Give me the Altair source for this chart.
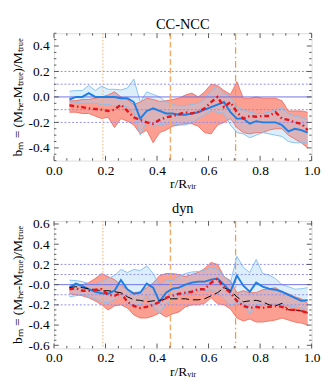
import altair as alt
import pandas as pd
import numpy as np

# ---------------- data ----------------
r = [0.060, 0.085, 0.110, 0.135, 0.160, 0.185, 0.210, 0.235, 0.260, 0.285,
     0.310, 0.335, 0.360, 0.385, 0.410, 0.435, 0.460, 0.485, 0.510, 0.535,
     0.560, 0.585, 0.610, 0.635, 0.660, 0.685, 0.710, 0.735, 0.760, 0.785,
     0.810, 0.835, 0.860, 0.885, 0.910, 0.935, 0.960, 0.985]

# CC-NCC panel
cc_blue = [-0.02, 0.0, 0.0, 0.03, 0.0, 0.0, 0.0, 0.0, -0.01, -0.01,
           -0.04, -0.17, -0.11, -0.09, -0.11, -0.13, -0.13, -0.14, -0.14, -0.13,
           -0.12, -0.10, -0.08, -0.06, -0.04, -0.12, -0.17, -0.17, -0.21, -0.19,
           -0.20, -0.20, -0.20, -0.22, -0.27, -0.25, -0.26, -0.28]
cc_blue_hi = [0.045, 0.05, 0.05, 0.09, 0.05, 0.085, 0.06, 0.06, 0.055, 0.07,
              0.14, -0.04, 0.04, 0.02, 0.0, -0.04, -0.06, -0.07, -0.07, -0.06,
              -0.05, -0.02, 0.05, 0.08, 0.03, 0.0, -0.08, -0.10, -0.12, -0.13,
              -0.13, -0.12, -0.10, -0.09, -0.13, -0.15, -0.16, -0.18]
cc_blue_lo = [-0.04, -0.04, -0.05, -0.05, -0.05, -0.06, -0.06, -0.07, -0.07, -0.08,
              -0.12, -0.30, -0.19, -0.23, -0.22, -0.21, -0.21, -0.22, -0.22, -0.20,
              -0.17, -0.14, -0.11, -0.12, -0.13, -0.22, -0.28, -0.29, -0.32, -0.30,
              -0.28, -0.29, -0.30, -0.31, -0.35, -0.36, -0.36, -0.36]
cc_red = [-0.065, -0.075, -0.08, -0.09, -0.095, -0.10, -0.11, -0.10, -0.06, -0.11,
          -0.16, -0.18, -0.20, -0.21, -0.18, -0.16, -0.15, -0.135, -0.12, -0.13,
          -0.115, -0.09, -0.04, 0.0, -0.08, -0.04, -0.12, -0.17, -0.15, -0.155,
          -0.15, -0.15, -0.12, -0.17, -0.18, -0.20, -0.21, -0.26]
cc_red_hi = [-0.03, -0.03, -0.02, -0.02, -0.01, 0.0, 0.015, 0.04, 0.0, -0.02,
             -0.06, -0.04, -0.01, -0.02, -0.035, -0.03, -0.02, -0.01, 0.015, 0.03,
             0.0, 0.04, 0.10, 0.09, 0.05, 0.02, 0.12, -0.01, -0.01, 0.0,
             -0.01, -0.01, -0.01, -0.03, -0.11, -0.11, -0.11, -0.12]
cc_red_lo = [-0.12, -0.12, -0.13, -0.13, -0.15, -0.17, -0.16, -0.24, -0.17, -0.19,
             -0.22, -0.29, -0.26, -0.36, -0.28, -0.26, -0.23, -0.22, -0.21, -0.21,
             -0.23, -0.28, -0.29, -0.22, -0.20, -0.17, -0.24, -0.28, -0.29, -0.28,
             -0.28, -0.26, -0.25, -0.25, -0.30, -0.33, -0.36, -0.40]

# dyn panel
dy_blue = [-0.03, 0.01, -0.015, -0.045, -0.07, -0.085, -0.09, -0.06, 0.045, -0.045,
           -0.09, -0.08, 0.01, -0.03, -0.17, -0.08, -0.04, -0.03, 0.0, 0.02,
           0.03, 0.03, 0.05, 0.06, 0.0, -0.07, 0.09, -0.01, -0.07, 0.02,
           -0.02, -0.04, -0.05, -0.07, -0.10, -0.13, -0.16, -0.155]
dy_blue_hi = [0.045, 0.04, 0.03, 0.01, 0.0, 0.03, 0.06, 0.09, 0.15, 0.12,
              0.15, 0.14, 0.185, 0.11, -0.01, 0.045, 0.04, 0.08, 0.11, 0.125,
              0.13, 0.14, 0.17, 0.15, 0.08, 0.02, 0.28, 0.17, 0.12, 0.25,
              0.11, 0.095, 0.06, 0.0, -0.02, -0.045, -0.04, -0.03]
dy_blue_lo = [-0.12, -0.11, -0.10, -0.12, -0.14, -0.17, -0.18, -0.15, -0.09, -0.18,
              -0.21, -0.20, -0.10, -0.22, -0.28, -0.19, -0.15, -0.11, -0.08, -0.06,
              -0.06, -0.06, -0.05, -0.08, -0.14, -0.21, -0.17, -0.19, -0.29, -0.20,
              -0.19, -0.19, -0.19, -0.20, -0.21, -0.22, -0.23, -0.25]
dy_red = [-0.045, -0.035, -0.06, -0.06, -0.05, -0.045, -0.10, -0.11, -0.08, -0.17,
          -0.21, -0.23, -0.22, -0.20, -0.17, -0.13, -0.11, -0.09, -0.08, -0.07,
          -0.045, -0.045, 0.02, 0.06, -0.03, -0.08, -0.16, -0.21, -0.23, -0.22,
          -0.23, -0.22, -0.21, -0.22, -0.25, -0.25, -0.26, -0.28]
dy_red_hi = [-0.015, 0.0, 0.0, 0.02, 0.06, 0.11, 0.08, 0.05, 0.0, -0.05,
             -0.08, -0.07, -0.03, 0.015, 0.09, 0.11, 0.11, 0.10, 0.08, 0.10,
             0.12, 0.16, 0.22, 0.20, 0.08, 0.04, -0.08, -0.06, -0.08, -0.08,
             -0.05, -0.04, -0.03, -0.07, -0.09, -0.12, -0.14, -0.185]
dy_red_lo = [-0.09, -0.10, -0.11, -0.13, -0.16, -0.20, -0.25, -0.21, -0.20, -0.23,
             -0.30, -0.33, -0.33, -0.31, -0.28, -0.32, -0.29, -0.27, -0.22, -0.20,
             -0.20, -0.185, -0.13, -0.19, -0.20, -0.24, -0.33, -0.36, -0.34, -0.37,
             -0.37, -0.36, -0.35, -0.33, -0.35, -0.37, -0.38, -0.40]
dy_black = [-0.03, -0.02, -0.03, -0.04, -0.05, -0.06, -0.06, -0.07, -0.08, -0.12,
            -0.15, -0.155, -0.17, -0.16, -0.155, -0.14, -0.14, -0.14, -0.14, -0.15,
            -0.15, -0.14, -0.11, -0.08, -0.03, -0.06, -0.12, -0.17, -0.16, -0.155,
            -0.17, -0.20, -0.21, -0.185, -0.25, -0.25, -0.26, -0.28]

h_dotted = [0.2, 0.1, -0.1, -0.2]
h_solid = [0.0]
v_lines = [0.19, 0.452, 0.705]
v_styles = ["dot", "dash", "dashdot"]

x_labels = [0.0, 0.2, 0.4, 0.6, 0.8, 1.0]
cc_ylabels = [-0.4, -0.2, 0.0, 0.2, 0.4]
dy_ylabels = [-0.6, -0.4, -0.2, 0.0, 0.2, 0.4, 0.6]

# ---------------- style ----------------
W, H = 269, 133
SERIF = "Liberation Serif"
FRAME = "#555555"
MAJ, MIN = 5, 2.5

def make_panel(title, blue, blo, bhi, red, rlo, rhi, black, ydom, ylabels, neg_zero):
    df = pd.DataFrame({"x": r, "blue": blue, "blo": blo, "bhi": bhi,
                       "red": red, "rlo": rlo, "rhi": rhi})
    if black is not None:
        df["black"] = black
    xscale = alt.Scale(domain=[0, 1], nice=False, zero=False)
    yscale = alt.Scale(domain=ydom, nice=False, zero=False)
    xaxis = alt.Axis(values=x_labels, format=".1f", title="r/Rᵥᵢᵣ", grid=False,
                     ticks=False, domain=False, labelFont=SERIF, labelFontSize=14,
                     labelColor="black", titleFont=SERIF, titleFontSize=14,
                     titleFontWeight="normal", titleColor="black", labelPadding=3,
                     titlePadding=0, labelFlush=False)
    if neg_zero:
        lexpr = "datum.value == 0 ? '-0.0' : replace(format(datum.value, '.1f'), '\u2212', '-')"
    else:
        lexpr = "replace(format(datum.value, '.1f'), '\u2212', '-')"
    yaxis = alt.Axis(values=ylabels, labelExpr=lexpr,
                     title="bₘ = (Mₕₑ-Mₜᵣᵤₑ)/Mₜᵣᵤₑ", grid=False, ticks=False,
                     domain=False, labelFont=SERIF, labelFontSize=14, labelColor="black",
                     titleFont=SERIF, titleFontSize=14, titleFontWeight="normal",
                     titleColor="black", labelPadding=5, titlePadding=4,
                     labelFlush=False)

    def X(f):
        return alt.X(f"{f}:Q", scale=xscale, axis=xaxis)

    def Y(f):
        return alt.Y(f"{f}:Q", scale=yscale, axis=yaxis)

    base = alt.Chart(df)
    red_band = base.mark_area(color="#f97a68", opacity=0.72, line=False).encode(
        x=X("x"), y=Y("rlo"), y2="rhi")
    red_edge_hi = base.mark_line(color="#f06050", strokeWidth=0.8).encode(x=X("x"), y=Y("rhi"))
    red_edge_lo = base.mark_line(color="#f06050", strokeWidth=0.8).encode(x=X("x"), y=Y("rlo"))
    blue_band = base.mark_area(color="#a6d3f5", opacity=0.38).encode(
        x=X("x"), y=Y("blo"), y2="bhi")
    blue_edge_hi = base.mark_line(color="#86c0f0", strokeWidth=1).encode(x=X("x"), y=Y("bhi"))
    blue_edge_lo = base.mark_line(color="#86c0f0", strokeWidth=1).encode(x=X("x"), y=Y("blo"))

    hd = alt.Chart(pd.DataFrame({"y": h_dotted})).mark_rule(
        color="#8a8af5", strokeDash=[2, 2], strokeWidth=1).encode(y=Y("y"))
    hs = alt.Chart(pd.DataFrame({"y": h_solid})).mark_rule(
        color="#6f6fe8", strokeWidth=1).encode(y=Y("y"))
    dashes = {"dot": [1.5, 2], "dash": [6, 3], "dashdot": [7, 3, 1.5, 3]}
    widths = {"dot": 1, "dash": 1.5, "dashdot": 1.3}
    colors = {"dot": "#f6a860", "dash": "#f5aa6a", "dashdot": "#f09a40"}
    vls = []
    for xv, st in zip(v_lines, v_styles):
        vls.append(alt.Chart(pd.DataFrame({"x": [xv]})).mark_rule(
            color=colors[st], strokeDash=dashes[st],
            strokeWidth=widths[st]).encode(x=X("x")))

    blue_line = base.mark_line(color="#1d7fe6", strokeWidth=2).encode(x=X("x"), y=Y("blue"))
    red_line = base.mark_line(color="#e8141c", strokeWidth=2.5,
                              strokeDash=[5, 3, 1.5, 3]).encode(x=X("x"), y=Y("red"))

    layers = [red_band, blue_band, red_edge_hi, red_edge_lo, blue_edge_hi, blue_edge_lo,
              hd, hs] + vls + [blue_line]
    if black is not None:
        layers.append(base.mark_line(color="black", strokeWidth=1,
                                     strokeDash=[8, 4]).encode(x=X("x"), y=Y("black")))
    layers.append(red_line)

    # inward ticks on all four sides
    xt = np.round(np.arange(0, 1.0001, 0.05), 2)
    xt_maj = [v for v in xt if abs(v * 5 - round(v * 5)) < 1e-6]
    xt_min = [v for v in xt if abs(v * 5 - round(v * 5)) >= 1e-6]
    lim = ydom[1]
    yt = np.round(np.arange(-np.floor(lim / 0.05) * 0.05, lim + 1e-9, 0.05), 2)
    yt_maj = [v for v in yt if abs(v * 5 - round(v * 5)) < 1e-6]
    yt_min = [v for v in yt if abs(v * 5 - round(v * 5)) >= 1e-6]
    for vals, L in ((xt_maj, MAJ), (xt_min, MIN)):
        d = alt.Chart(pd.DataFrame({"t": vals}))
        layers.append(d.mark_rule(color=FRAME, strokeWidth=1).encode(
            x=X("t"), y=alt.value(H), y2=alt.value(H - L)))
        layers.append(d.mark_rule(color=FRAME, strokeWidth=1).encode(
            x=X("t"), y=alt.value(0), y2=alt.value(L)))
    for vals, L in ((yt_maj, MAJ), (yt_min, MIN)):
        d = alt.Chart(pd.DataFrame({"t": vals}))
        layers.append(d.mark_rule(color=FRAME, strokeWidth=1).encode(
            y=Y("t"), x=alt.value(0), x2=alt.value(L)))
        layers.append(d.mark_rule(color=FRAME, strokeWidth=1).encode(
            y=Y("t"), x=alt.value(W), x2=alt.value(W - L)))

    return alt.layer(*layers).properties(
        width=W, height=H,
        title=alt.TitleParams(title, font=SERIF, fontSize=15, fontWeight="normal",
                              color="black", offset=1))

top = make_panel("CC-NCC", cc_blue, cc_blue_lo, cc_blue_hi, cc_red, cc_red_lo, cc_red_hi,
                 None, [-0.5, 0.5], cc_ylabels, False)
bot = make_panel("dyn", dy_blue, dy_blue_lo, dy_blue_hi, dy_red, dy_red_lo, dy_red_hi,
                 dy_black, [-0.63, 0.63], dy_ylabels, True)

chart = alt.vconcat(top, bot, spacing=10).properties(
    padding={"left": 2, "top": 0, "right": 4, "bottom": 0}
).configure_view(stroke=FRAME, strokeWidth=1).configure(background="white")

chart.save("out.html", embed_options={"renderer": "svg", "actions": False})
